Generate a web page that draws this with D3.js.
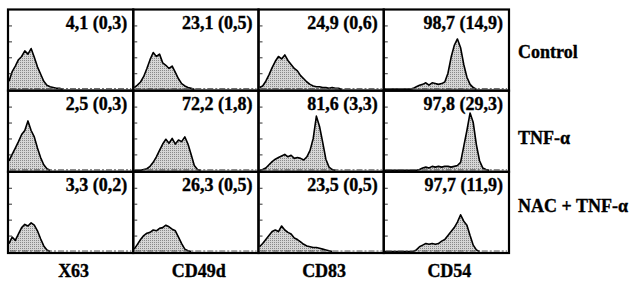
<!DOCTYPE html>
<html>
<head>
<meta charset="utf-8">
<script src="https://cdn.jsdelivr.net/npm/d3@7"></script>
<style>
  body { margin: 0; background: #fff; }
  text { font-family: "Liberation Serif", "Times New Roman", serif; font-weight: bold; fill: #000; stroke: #000; stroke-width: 0.35px; }
</style>
</head>
<body>
<div class="facs"></div>
<script>
// column / row names
const markers = ["X63", "CD49d", "CD83", "CD54"];
const treatments = ["Control", "TNF-α", "NAC + TNF-α"];

// % positive (MFI) written in each panel, one list per row
const statsControl = ["4,1 (0,3)", "23,1 (0,5)", "24,9 (0,6)", "98,7 (14,9)"];
const statsTnf = ["2,5 (0,3)", "72,2 (1,8)", "81,6 (3,3)", "97,8 (29,3)"];
const statsNac = ["3,3 (0,2)", "26,3 (0,5)", "23,5 (0,5)", "97,7 (11,9)"];

// histogram heights (fraction of panel height), 40 channels across the panel
const ctlX63 = [0.10,0.22,0.29,0.37,0.41,0.48,0.44,0.51,0.40,0.28,0.19,0.10,0.05,0.03,0.02,0.01,0.01,0];
const ctlCD49d = [0.02,0.05,0.09,0.16,0.26,0.37,0.46,0.41,0.44,0.33,0.30,0.26,0.29,0.21,0.13,0.07,0.04,0.02,0.01,0];
const ctlCD83 = [0.02,0.04,0.10,0.18,0.27,0.35,0.41,0.38,0.43,0.36,0.31,0.26,0.23,0.17,0.13,0.09,0.06,0.04,0.03,0.03,0.02,0.02,0.01,0.02,0.01,0.01,0];
const ctlCD54 = [0,0,0,0,0,0,0,0,0,0.01,0.03,0.05,0.06,0.08,0.05,0.08,0.07,0.06,0.07,0.09,0.20,0.40,0.55,0.63,0.52,0.31,0.15,0.06,0.02,0];

const tnfX63 = [0.12,0.20,0.28,0.36,0.45,0.50,0.62,0.50,0.42,0.28,0.16,0.07,0.02,0];
const tnfCD49d = [0,0,0,0.01,0.02,0.05,0.10,0.17,0.25,0.33,0.39,0.34,0.40,0.33,0.38,0.36,0.42,0.33,0.20,0.06,0.01,0];
const tnfCD83 = [0,0.01,0.03,0.07,0.11,0.14,0.16,0.18,0.20,0.17,0.19,0.15,0.16,0.15,0.13,0.17,0.25,0.40,0.68,0.55,0.35,0.14,0.04,0.01,0];
const tnfCD54 = [0,0,0,0,0,0,0,0,0,0,0,0.01,0.03,0.04,0.03,0.05,0.04,0.05,0.04,0.05,0.05,0.04,0.05,0.06,0.10,0.30,0.50,0.72,0.60,0.32,0.12,0.03,0.01,0];

const nacX63 = [0.10,0.18,0.14,0.22,0.30,0.34,0.32,0.36,0.33,0.26,0.16,0.07,0.02,0];
const nacCD49d = [0.03,0.09,0.15,0.20,0.23,0.24,0.27,0.26,0.29,0.30,0.33,0.31,0.28,0.26,0.18,0.10,0.03,0.01,0];
const nacCD83 = [0.06,0.10,0.15,0.20,0.25,0.27,0.25,0.32,0.27,0.24,0.22,0.17,0.15,0.12,0.09,0.07,0.06,0.05,0.05,0.04,0.03,0.02,0.01,0];
const nacCD54 = [0,0,0,0,0,0,0,0,0,0,0.02,0.06,0.08,0.10,0.09,0.10,0.09,0.10,0.13,0.15,0.20,0.25,0.30,0.37,0.46,0.38,0.33,0.20,0.08,0.02,0];

const nBins = 40;

const hists = [
  [ctlX63, ctlCD49d, ctlCD83, ctlCD54],
  [tnfX63, tnfCD49d, tnfCD83, tnfCD54],
  [nacX63, nacCD49d, nacCD83, nacCD54]
];
const stats = [statsControl, statsTnf, statsNac];

const width = 637;
const height = 282;
const grid = { left: 8, right: 509, top: 9.5, bottom: 253 };
// row labels are not exactly centred on their rows in the original
const rowLabelShift = [8, 12.5, -0.5];

const svg = d3.select(".facs")
  .append("svg")
  .attr("width", width)
  .attr("height", height);

// stippled grey fill like the printed halftone
const defs = svg.append("defs");
const pat = defs.append("pattern")
  .attr("id", "dots")
  .attr("width", 2)
  .attr("height", 2)
  .attr("patternUnits", "userSpaceOnUse");
pat.append("rect").attr("width", 2).attr("height", 2).attr("fill", "#d6d6d6");
pat.append("rect").attr("width", 1).attr("height", 1).attr("fill", "#8a8a8a");

const colScale = d3.scaleBand().domain(markers).range([grid.left, grid.right]);
const rowScale = d3.scaleBand().domain(treatments).range([grid.top, grid.bottom]);

treatments.forEach((t, r) => {
  markers.forEach((m, c) => {
    const x0 = colScale(m);
    const y0 = rowScale(t);
    const w = colScale.bandwidth();
    const h = rowScale.bandwidth();

    const x = d3.scaleLinear().domain([0, nBins - 1]).range([x0 + 1, x0 + w - 1]);
    const y = d3.scaleLinear().domain([0, 1]).range([y0 + h - 1.5, y0]);

    const g = svg.append("g").attr("class", "panel");

    // the histogram itself
    const data = hists[r][c];
    const area = d3.area()
      .x((d, i) => x(i))
      .y0(y(0))
      .y1(d => y(d));
    const line = d3.line()
      .x((d, i) => x(i))
      .y(d => y(d));

    g.append("path")
      .datum(data)
      .attr("d", area)
      .attr("fill", "url(#dots)");
    g.append("path")
      .datum(data)
      .attr("d", line)
      .attr("fill", "none")
      .attr("stroke", "#000")
      .attr("stroke-width", 1.6)
      .attr("stroke-linejoin", "round");

    // small inward ticks (left) and the dashed baseline
    const yAxis = d3.axisRight(y).tickValues([0.2, 0.4, 0.6, 0.8]).tickSize(3).tickFormat("");
    g.append("g")
      .attr("transform", `translate(${x0 + 1},0)`)
      .call(yAxis)
      .call(s => s.select(".domain").remove())
      .selectAll("line").attr("stroke", "#333");

    g.append("line")
      .attr("x1", x0 + 2).attr("x2", x0 + w - 2)
      .attr("y1", y(0) - 0.5).attr("y2", y(0) - 0.5)
      .attr("stroke", "#555")
      .attr("stroke-width", 1)
      .attr("stroke-dasharray", "6,2,2,2");

    // frame
    g.append("rect")
      .attr("x", x0).attr("y", y0)
      .attr("width", w).attr("height", h)
      .attr("fill", "none")
      .attr("stroke", "#000")
      .attr("stroke-width", 2.2);

    // % positive label
    g.append("text")
      .attr("x", x0 + w - 6)
      .attr("y", y0 + 19)
      .attr("text-anchor", "end")
      .attr("font-size", 18)
      .text(stats[r][c]);
  });

  // row labels on the right
  svg.append("text")
    .attr("x", grid.right + 9)
    .attr("y", rowScale(t) + rowScale.bandwidth() / 2 + rowLabelShift[r])
    .attr("font-size", 18)
    .text(t);
});

// column labels underneath
svg.selectAll("text.col")
  .data(markers)
  .enter()
  .append("text")
  .attr("class", "col")
  .attr("x", d => colScale(d) + colScale.bandwidth() / 2 + 3)
  .attr("y", 277)
  .attr("text-anchor", "middle")
  .attr("font-size", 18)
  .text(d => d);
</script>
</body>
</html>
